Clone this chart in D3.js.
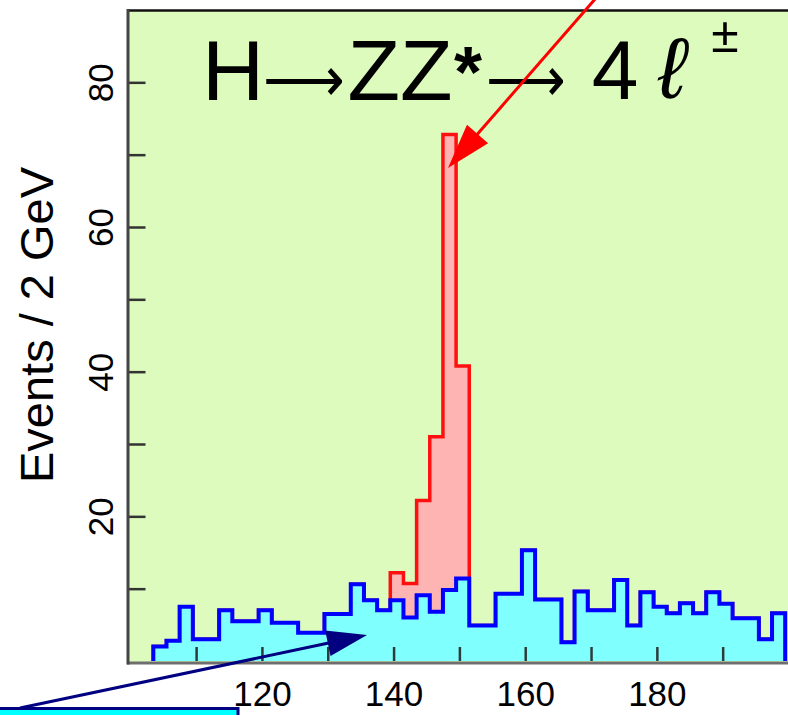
<!DOCTYPE html>
<html>
<head>
<meta charset="utf-8">
<script src="https://cdn.jsdelivr.net/npm/d3@7"></script>
<style>
  body { margin: 0; background: #fff; }
  svg { display: block; }
  text { font-family: "Liberation Sans", Arial, sans-serif; fill: #000; }
</style>
</head>
<body>
<div id="chart"></div>
<script>
// H -> ZZ* -> 4l, events per 2 GeV bin
var binStart = 103.5,
  binWidth = 2

// background (cyan) histogram, 48 bins from 103.5 GeV
var background = [
  2.0, 2.8, 7.5, 3.0, 3.0, 7.0, 5.5, 5.5, 7.0, 5.3,
  5.3, 3.9, 3.9, 6.5, 6.5, 10.6, 8.4, 7.0, 8.4, 6.0,
  9.1, 6.8, 9.8, 11.4, 4.9, 4.9, 9.3, 9.3, 15.3, 8.5,
  8.5, 2.6, 9.6, 7.0, 7.0, 11.2, 4.9, 9.5, 7.5, 6.6,
  8.0, 6.6, 9.5, 7.9, 5.9, 5.9, 3.0, 6.6
]

// signal (red) stacked on top of the background
var signal = [
  0, 0, 0, 0, 0, 0, 0, 0, 0, 0,
  0, 0, 0, 0, 0, 0, 0, 0, 3.8, 4.7,
  13.1, 24.2, 63.0, 29.4, 0, 0, 0, 0, 0, 0,
  0, 0, 0, 0, 0, 0, 0, 0, 0, 0,
  0, 0, 0, 0, 0, 0, 0, 0
]

var xTicks = [110, 120, 130, 140, 150, 160, 170, 180, 190]
var xLabels = [120, 140, 160, 180]
var yTicks = [10, 20, 30, 40, 50, 60, 70, 80]
var yLabels = [20, 40, 60, 80]
var yTitle = 'Events / 2 GeV'

var W = 788, H = 715

var svg = d3.select('#chart').append('svg')
  .attr('width', W)
  .attr('height', H)

var x = d3.scaleLinear().domain([99.5, 200]).range([127, 788.5])
var y = d3.scaleLinear().domain([0, 90]).range([661, 10])

var edges = d3.range(background.length + 1).map(function(i) { return binStart + i*binWidth })
var total = background.map(function(b, i) { return b + signal[i] })

function stepPoints(vals) {
  var pts = [[edges[0], 0]]
  vals.forEach(function(v, i) { pts.push([edges[i], v]) })
  pts.push([edges[vals.length], vals[vals.length - 1]])
  pts.push([edges[vals.length], 0])
  return pts
}

var line = d3.line()
  .x(function(d) { return x(d[0]) })
  .y(function(d) { return y(d[1]) })
  .curve(d3.curveStepAfter)

// plot area
svg.append('rect')
  .attr('x', 128).attr('y', 10)
  .attr('width', W - 128).attr('height', 652)
  .attr('fill', '#dcfbbd')

// signal + background
svg.append('path')
  .attr('d', line(stepPoints(total)) + 'Z')
  .attr('fill', '#ffb4b4')
svg.append('path')
  .attr('d', line(stepPoints(total)))
  .attr('fill', 'none')
  .attr('stroke', '#ff1010')
  .attr('stroke-width', 3.5)

// background only
svg.append('path')
  .attr('d', line(stepPoints(background)) + 'Z')
  .attr('fill', '#80ffff')
svg.append('path')
  .attr('d', line(stepPoints(background)))
  .attr('fill', 'none')
  .attr('stroke', '#0000ff')
  .attr('stroke-width', 4)

// axes
var xAxis = d3.axisBottom(x)
  .tickValues(xTicks)
  .tickSizeInner(-14)
  .tickSizeOuter(0)
  .tickPadding(20)
  .tickFormat(function(d) { return xLabels.indexOf(d) >= 0 ? d : '' })

var xg = svg.append('g')
  .attr('transform', 'translate(0,661)')
  .call(xAxis)
xg.select('.domain').remove()
xg.selectAll('.tick line').attr('stroke', '#2c3c3c').attr('stroke-width', 2.5)
xg.selectAll('.tick text')
  .attr('font-size', 35)
  .attr('font-family', '"Liberation Sans", Arial, sans-serif')
  .attr('fill', '#000')

var yAxis = d3.axisLeft(y)
  .tickValues(yTicks)
  .tickSizeInner(-17)
  .tickSizeOuter(0)
  .tickFormat(function(d) { return yLabels.indexOf(d) >= 0 ? d : '' })

var yg = svg.append('g')
  .attr('transform', 'translate(128.5,0)')
  .call(yAxis)
yg.select('.domain').remove()
yg.selectAll('.tick line').attr('stroke', '#333').attr('stroke-width', 2.5)
yg.selectAll('.tick text')
  .attr('x', 0)
  .attr('y', -16)
  .attr('dy', 0)
  .attr('text-anchor', 'middle')
  .attr('transform', 'rotate(-90)')
  .attr('font-size', 35)
  .attr('font-family', '"Liberation Sans", Arial, sans-serif')
  .attr('fill', '#000')

// frame
svg.append('line')
  .attr('x1', 127).attr('x2', W + 2).attr('y1', 10.5).attr('y2', 10.5)
  .attr('stroke', '#111').attr('stroke-width', 2.5)
svg.append('line')
  .attr('x1', 127).attr('x2', W + 2).attr('y1', 663).attr('y2', 663)
  .attr('stroke', '#6e6e6e').attr('stroke-width', 3)
svg.append('line')
  .attr('x1', 128).attr('x2', 128).attr('y1', 9).attr('y2', 664.5)
  .attr('stroke', '#444').attr('stroke-width', 3)

svg.append('text')
  .attr('transform', 'translate(53,325) rotate(-90)')
  .attr('text-anchor', 'middle')
  .attr('font-size', 47)
  .text(yTitle)

// title
var title = svg.append('g')
title.append('text').attr('x', 233).attr('y', 100).attr('text-anchor', 'middle').attr('font-size', 86).text('H')
title.append('text').attr('x', 263).attr('y', 101)
  .attr('font-family', '"DejaVu Sans", sans-serif').attr('font-size', 64)
  .attr('textLength', 82).attr('lengthAdjust', 'spacingAndGlyphs').text('⟶')
title.append('text').attr('x', 400).attr('y', 100).attr('text-anchor', 'middle').attr('font-size', 86).text('ZZ')
title.append('text').attr('x', 468).attr('y', 97).attr('text-anchor', 'middle').attr('font-size', 72).attr('font-weight', 'bold').text('*')
title.append('text').attr('x', 486).attr('y', 101)
  .attr('font-family', '"DejaVu Sans", sans-serif').attr('font-size', 64)
  .attr('textLength', 80).attr('lengthAdjust', 'spacingAndGlyphs').text('⟶')
title.append('text').attr('x', 615).attr('y', 99).attr('text-anchor', 'middle').attr('font-size', 84).text('4')
title.append('text').attr('x', 672).attr('y', 98).attr('text-anchor', 'middle').attr('font-size', 86).attr('font-style', 'italic').text('ℓ')
title.append('text').attr('x', 725).attr('y', 52).attr('text-anchor', 'middle').attr('font-size', 50).text('±')

// pointer arrows
function arrow(x1, y1, x2, y2, headLen, headHalf, color, width) {
  var dx = x2 - x1, dy = y2 - y1, len = Math.sqrt(dx*dx + dy*dy),
    ux = dx/len, uy = dy/len,
    bx = x2 - ux*headLen, by = y2 - uy*headLen
  var g = svg.append('g')
  g.append('line')
    .attr('x1', x1).attr('y1', y1).attr('x2', bx + ux*2).attr('y2', by + uy*2)
    .attr('stroke', color).attr('stroke-width', width)
  g.append('path')
    .attr('d', 'M' + x2 + ',' + y2 +
      'L' + (bx - uy*headHalf) + ',' + (by + ux*headHalf) +
      'L' + (bx + uy*headHalf) + ',' + (by - ux*headHalf) + 'Z')
    .attr('fill', color)
}

arrow(596, -2, 448, 168, 45, 14, '#ff0000', 3)
arrow(20, 708, 367, 635, 40, 13, '#000080', 3)

// label box at the bottom left
svg.append('rect')
  .attr('x', -3).attr('y', 708.5)
  .attr('width', 241).attr('height', 20)
  .attr('fill', '#00ffff')
  .attr('stroke', '#000080')
  .attr('stroke-width', 3)
</script>
</body>
</html>
